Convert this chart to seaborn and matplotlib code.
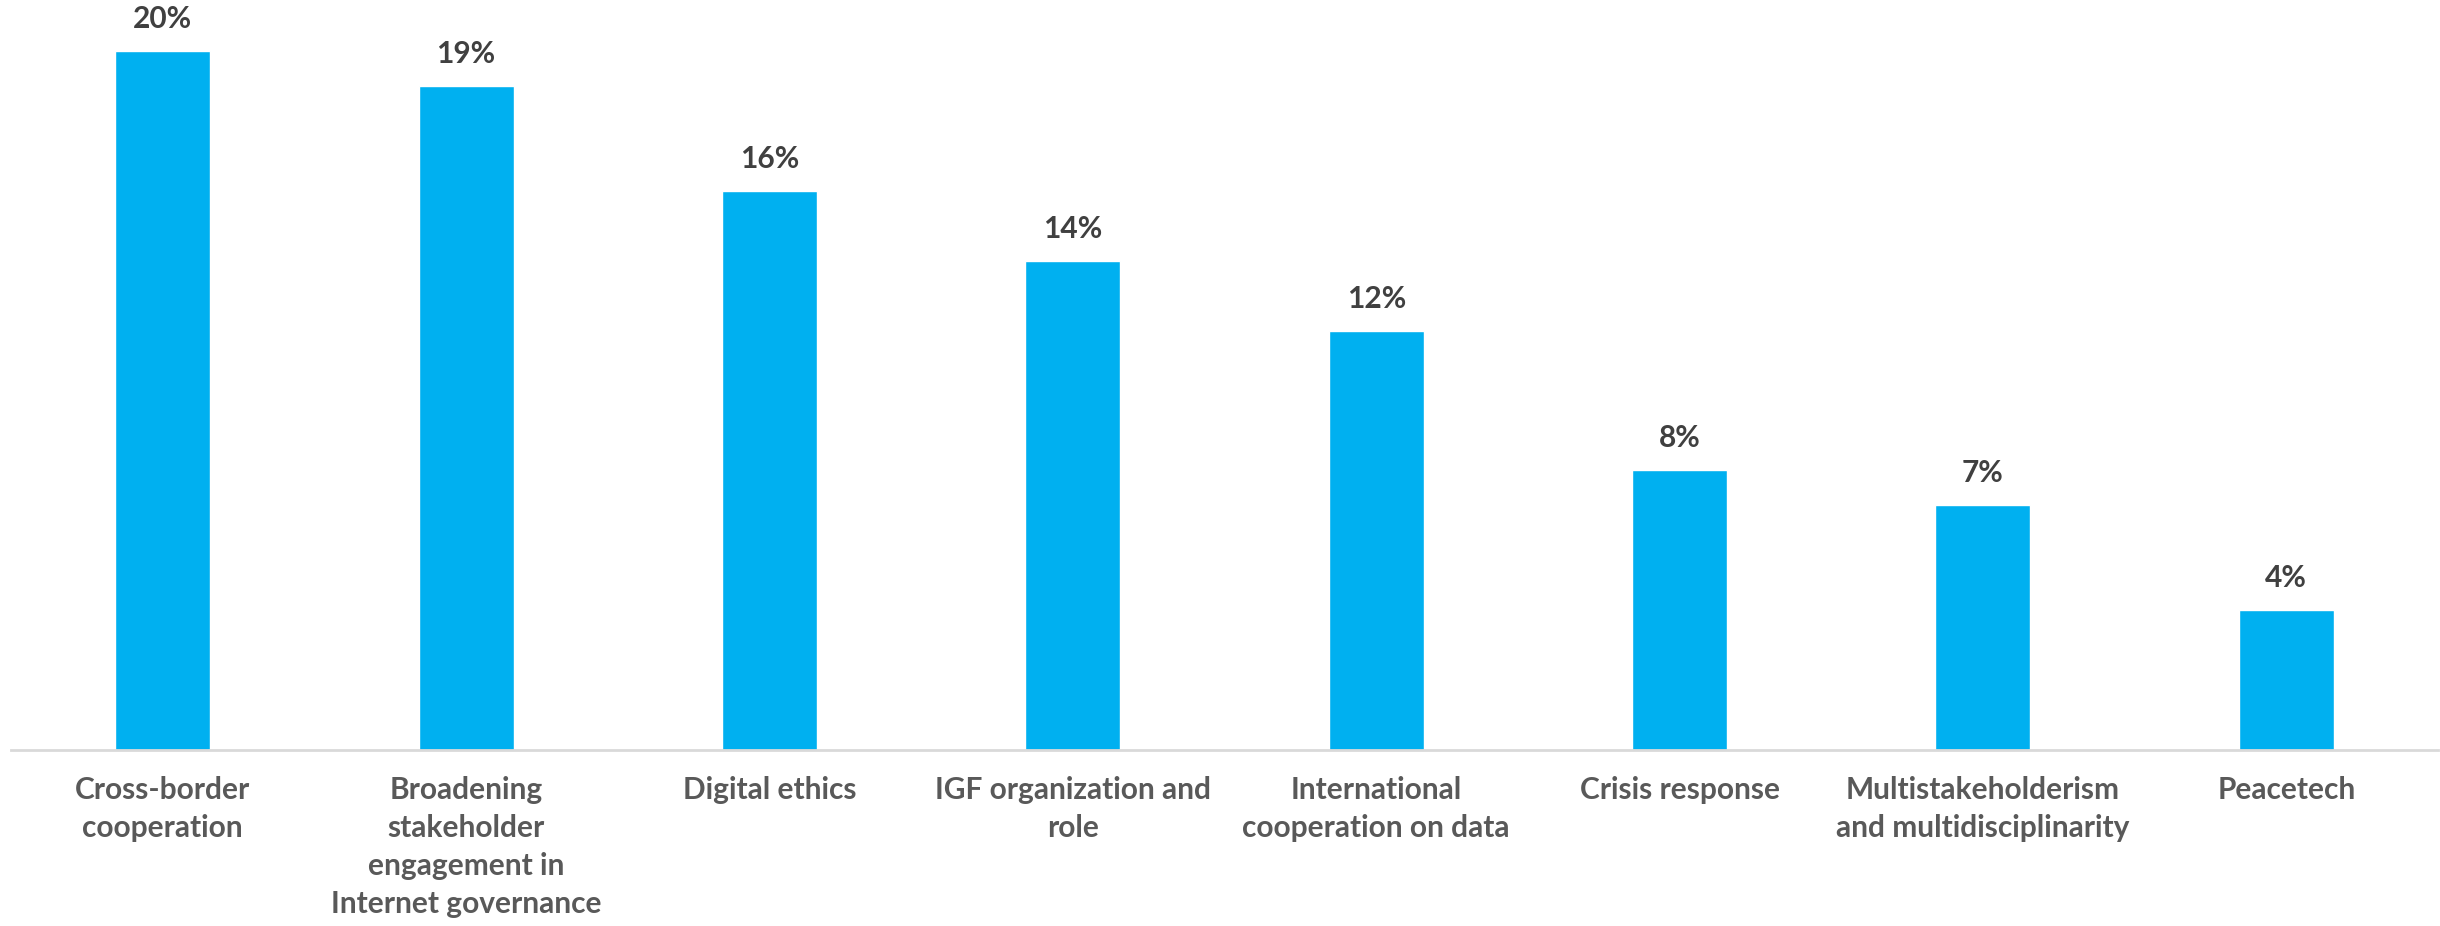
import matplotlib
matplotlib.use("Agg")
import matplotlib.pyplot as plt
import seaborn as sns
import pandas as pd

# ==========================================
# Data
# ==========================================
categories = [
    "Cross-border\ncooperation",
    "Broadening\nstakeholder\nengagement in\nInternet governance",
    "Digital ethics",
    "IGF organization and\nrole",
    "International\ncooperation on data",
    "Crisis response",
    "Multistakeholderism\nand multidisciplinarity",
    "Peacetech",
]
shares = [20, 19, 16, 14, 12, 8, 7, 4]

df = pd.DataFrame({"topic": categories, "share": shares})

# ==========================================
# Plot
# ==========================================
sns.set_theme(style="white")
plt.rcParams["font.family"] = ["Lato", "DejaVu Sans"]

fig = plt.figure(figsize=(24.4, 9.26), dpi=100)
ax = fig.add_axes([11 / 2440, (926 - 750) / 926, 2427 / 2440, 750 / 926])

sns.barplot(data=df, x="topic", y="share", color="#00B0F0", saturation=1,
            width=0.313, ax=ax)

ax.set_xlim(-0.5, 7.5)
ax.set_ylim(0, 750 / 34.95)

for container in ax.containers:
    lbls = ax.bar_label(container, labels=[f"{v}%" for v in shares], padding=13,
                        fontsize=21.5, fontweight="bold", color="#404040")
    for t in lbls:
        t.set_clip_on(False)

ax.set_xlabel("")
ax.set_ylabel("")
ax.set_yticks([])
ax.tick_params(axis="x", length=0, pad=19)
for lbl in ax.get_xticklabels():
    lbl.set_fontsize(21.5)
    lbl.set_fontweight("bold")
    lbl.set_color("#595959")
    lbl.set_linespacing(1.43)
    lbl.set_verticalalignment("top")

for side in ["top", "right", "left"]:
    ax.spines[side].set_visible(False)
ax.spines["bottom"].set_color("#D9D9D9")
ax.spines["bottom"].set_linewidth(2)

fig.savefig("out.png", dpi=100, facecolor="white")
plt.close(fig)
